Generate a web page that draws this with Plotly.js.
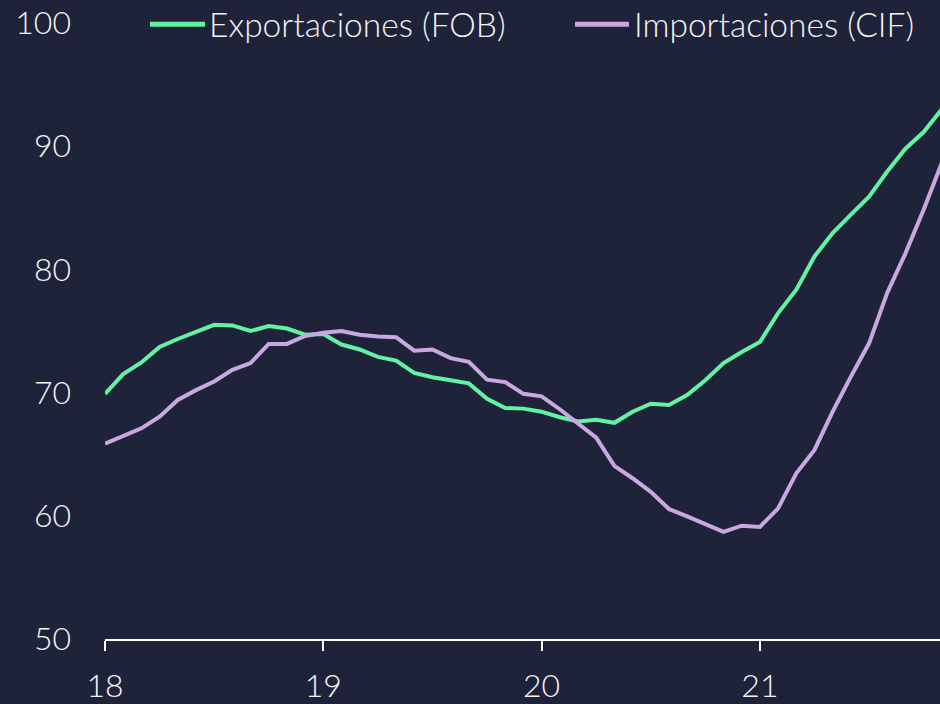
<!DOCTYPE html>
<html>
<head>
<meta charset="utf-8">
<script src="https://cdn.plot.ly/plotly-3.0.1.min.js"></script>
<style>
  html, body { margin: 0; padding: 0; background: #1f2339; }
  #chart { width: 940px; height: 704px; }
</style>
</head>
<body>
<div id="chart"></div>
<script>
// Monthly index values, Jan 2018 .. Nov 2021 (x = year "18" + month/12)
const startYear = 18;
const exportsFOB = [69.9, 71.5, 72.45, 73.7, 74.35, 74.95, 75.5, 75.45, 75.0, 75.4, 75.2, 74.7,
  74.75, 73.9, 73.5, 72.9, 72.6, 71.6, 71.25, 71.0, 70.75, 69.5, 68.75, 68.7,
  68.45, 68.0, 67.65, 67.8, 67.55, 68.45, 69.1, 69.0, 69.8, 71.0, 72.4, 73.3,
  74.1, 76.45, 78.35, 81.05, 82.95, 84.45, 85.9, 87.95, 89.8, 91.15, 93.0];
const importsCIF = [65.85, 66.5, 67.1, 68.05, 69.4, 70.2, 70.9, 71.85, 72.4, 73.95, 73.95, 74.6,
  74.85, 75.0, 74.7, 74.55, 74.5, 73.4, 73.5, 72.8, 72.5, 71.05, 70.85, 69.9,
  69.7, 68.65, 67.5, 66.35, 64.05, 63.05, 61.95, 60.55, 59.95, 59.3, 58.7, 59.2,
  59.1, 60.6, 63.45, 65.35, 68.45, 71.3, 74.0, 78.1, 81.3, 84.85, 88.65];
const seriesNames = ["Exportaciones (FOB)", "Importaciones (CIF)"];
const xTickVals = [18, 19, 20, 21];
const xTickText = ["18", "19", "20", "21"];
const yTickVals = [50, 60, 70, 80, 90, 100];

const months = exportsFOB.map((_, i) => startYear + i / 12);

const green = "#62f2a2";
const purple = "#c9a8e2";
const bg = "#1f2339";
const txt = "#f4f4f4";
const fontFam = "Lato, 'Open Sans', sans-serif";

const traces = [
  { x: months, y: exportsFOB, name: seriesNames[0], type: "scatter", mode: "lines",
    line: { color: green, width: 4 }, hoverinfo: "skip" },
  { x: months, y: importsCIF, name: seriesNames[1], type: "scatter", mode: "lines",
    line: { color: purple, width: 4 }, hoverinfo: "skip" }
];

const legY = 0.998;
const tf = { family: fontFam, size: 32, color: txt, weight: 300 };
const lf = { family: fontFam, size: 33.5, color: txt, weight: 300 };
const layout = {
  width: 940, height: 704,
  paper_bgcolor: bg, plot_bgcolor: bg,
  margin: { l: 105, r: 0, t: 23, b: 65, pad: 0 },
  showlegend: false,
  font: tf,
  xaxis: {
    range: [18, 21.825], tickvals: xTickVals, ticktext: xTickText,
    showgrid: false, zeroline: false, showline: true, linecolor: "#ffffff", linewidth: 2,
    ticks: "outside", ticklen: 10, tickwidth: 2, tickcolor: "#ffffff",
    ticklabelstandoff: 8,
    tickfont: tf
  },
  yaxis: {
    range: [50, 100], tickvals: yTickVals,
    showgrid: false, zeroline: false, showline: false, ticks: "",
    ticklabelstandoff: 33,
    tickfont: tf
  },
  shapes: [
    { type: "line", xref: "paper", yref: "paper", x0: 0.0539, x1: 0.1198, y0: legY, y1: legY,
      line: { color: green, width: 5 } },
    { type: "line", xref: "paper", yref: "paper", x0: 0.5629, x1: 0.6275, y0: legY, y1: legY,
      line: { color: purple, width: 5 } }
  ],
  annotations: [
    { xref: "paper", yref: "paper", x: 0.1235, y: legY, xanchor: "left", yanchor: "middle",
      text: seriesNames[0], showarrow: false, borderpad: 0, font: lf },
    { xref: "paper", yref: "paper", x: 0.6325, y: legY, xanchor: "left", yanchor: "middle",
      text: seriesNames[1], showarrow: false, borderpad: 0, font: lf }
  ]
};

Plotly.newPlot("chart", traces, layout, { staticPlot: true, displayModeBar: false });
</script>
</body>
</html>
